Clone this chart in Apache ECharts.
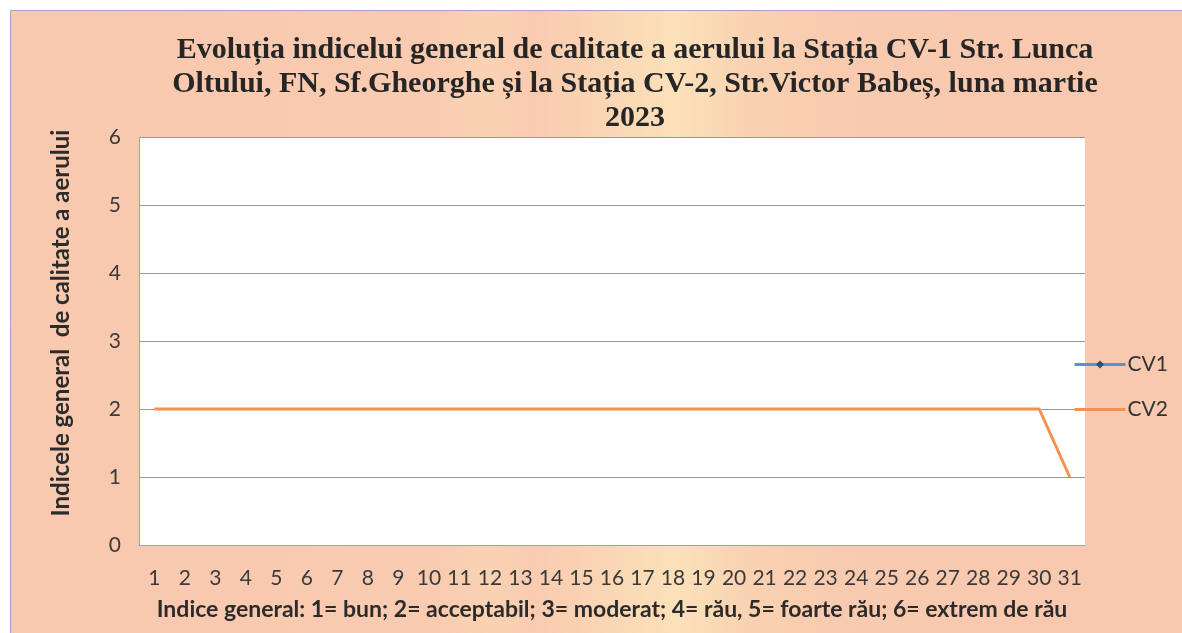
<!DOCTYPE html>
<html>
<head>
<meta charset="utf-8">
<script src="https://cdn.jsdelivr.net/npm/echarts@6/dist/echarts.min.js"></script>
<style>
html, body { margin: 0; padding: 0; background: #fff; }
#chart { width: 1182px; height: 633px; }
</style>
</head>
<body>
<div id="chart"></div>
<script>
// zilele lunii martie
var days = ['1','2','3','4','5','6','7','8','9','10','11','12','13','14','15','16','17','18','19','20','21','22','23','24','25','26','27','28','29','30','31'];
// CV1 - fara date
var cv1 = [];
// CV2 - indice general
var cv2 = [2,2,2,2,2,2,2,2,2,2,2,2,2,2,2,2,2,2,2,2,2,2,2,2,2,2,2,2,2,2,1];
var yTicks = [0,1,2,3,4,5,6];

var chart = echarts.init(document.getElementById('chart'));
var option = {
    backgroundColor: '#fff',
    animation: false,
    graphic: [
        {
            type: 'rect',
            z: -10,
            shape: { x: 10.5, y: 10.5, width: 1190, height: 640 },
            style: {
                fill: new echarts.graphic.LinearGradient(0, 0, 1, 0, [
                    { offset: 0, color: '#f8c8af' },
                    { offset: 0.36, color: '#f9cbb0' },
                    { offset: 0.4, color: '#fad3b3' },
                    { offset: 0.44, color: '#f9cbb0' },
                    { offset: 0.5, color: '#fad6b4' },
                    { offset: 0.56, color: '#fbe1ba' },
                    { offset: 0.62, color: '#f9d2b1' },
                    { offset: 0.7, color: '#f8caaf' },
                    { offset: 1, color: '#f8c8af' }
                ]),
                stroke: '#a4a2c6',
                lineWidth: 1
            }
        }
    ],
    title: {
        text: 'Evoluția indicelui general de calitate a aerului la Stația CV-1 Str. Lunca\nOltului, FN, Sf.Gheorghe și la Stația CV-2, Str.Victor Babeș, luna martie\n2023',
        left: 630,
        top: 28,
        textAlign: 'center',
        textStyle: {
            fontFamily: 'Liberation Serif',
            fontWeight: 'bold',
            fontSize: 30,
            lineHeight: 34,
            color: '#262626'
        }
    },
    legend: {
        orient: 'vertical',
        left: 1068,
        top: 349,
        itemWidth: 51,
        itemHeight: 10,
        itemGap: 24,
        textStyle: { fontFamily: 'Lato', fontSize: 21, color: '#333', padding: [0, 0, 0, -3] },
        data: [
            { name: 'CV1', lineStyle: { width: 3 } },
            { name: 'CV2', lineStyle: { width: 3 }, itemStyle: { opacity: 0 } }
        ]
    },
    grid: {
        left: 139,
        right: 97,
        top: 137,
        bottom: 88,
        show: true,
        backgroundColor: '#fff',
        borderWidth: 0
    },
    xAxis: {
        type: 'category',
        data: days,
        boundaryGap: true,
        name: 'Indice general: 1= bun; 2= acceptabil; 3= moderat; 4= rău, 5= foarte rău; 6= extrem de rău',
        nameLocation: 'middle',
        nameGap: 53,
        nameTextStyle: { fontFamily: 'Lato', fontWeight: 'bold', fontSize: 23, color: '#2b2b2b' },
        axisLine: { lineStyle: { color: '#9aa0bc', width: 1 } },
        axisTick: { show: false },
        axisLabel: { interval: 0, margin: 23, fontFamily: 'Lato', fontSize: 21, color: '#3a3a3a' }
    },
    yAxis: {
        type: 'value',
        min: yTicks[0],
        max: yTicks[yTicks.length - 1],
        interval: 1,
        name: 'Indicele general  de calitate a aerului',
        nameLocation: 'middle',
        nameGap: 66,
        nameTextStyle: { fontFamily: 'Lato', fontWeight: 'bold', fontSize: 24, color: '#2b2b2b', padding: [0, 0, 0, 36] },
        axisLine: { show: true, lineStyle: { color: '#9aa0bc', width: 1 } },
        axisTick: { show: false },
        axisLabel: { margin: 18, fontFamily: 'Lato', fontSize: 21, color: '#3a3a3a' },
        splitLine: { lineStyle: { color: '#8d97c2', width: 1 } }
    },
    series: [
        {
            name: 'CV1',
            type: 'line',
            data: cv1,
            symbol: 'diamond',
            symbolSize: 11,
            lineStyle: { color: '#5b8fd6', width: 3 },
            itemStyle: { color: '#2f4e7c' }
        },
        {
            name: 'CV2',
            type: 'line',
            data: cv2,
            symbol: 'none',
            lineStyle: { color: '#f79050', width: 3 },
            itemStyle: { color: '#f79050' }
        }
    ]
};
chart.setOption(option);
</script>
</body>
</html>
